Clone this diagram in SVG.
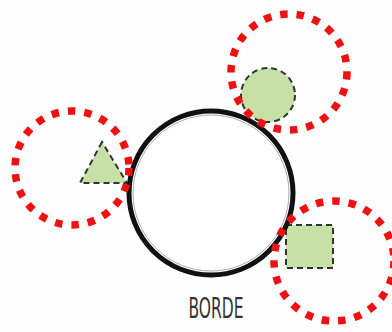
<svg xmlns="http://www.w3.org/2000/svg" width="392" height="332" viewBox="0 0 392 332">
<style>
.red{fill:none;stroke:#ee1111;stroke-width:7.5;stroke-dasharray:7.5 9}
.shape{fill:#c6e0a6;stroke:#333;stroke-width:2;stroke-dasharray:6 4}
.lbl{font-family:"DejaVu Sans Condensed","Liberation Sans",sans-serif;font-size:28px;fill:#333}
</style>
<rect width="392" height="332" fill="#fefefe"/>
<g id="shape-circle"><circle class="shape" cx="268" cy="95" r="27"/></g>
<g id="shape-triangle"><polygon class="shape" points="102,142 80,183 127,183"/></g>
<g id="shape-square"><rect class="shape" x="286" y="225" width="47" height="43"/></g>
<g id="borde">
<circle cx="211" cy="193" r="82" fill="#fff" stroke="#111" stroke-width="5"/>
<circle cx="211" cy="193" r="78" fill="none" stroke="#aaa" stroke-width="1"/>
<text class="lbl" x="216" y="318" text-anchor="middle" textLength="55" lengthAdjust="spacingAndGlyphs">BORDE</text>
</g>
<g id="connectors">
<circle class="red" cx="289" cy="72" r="58"/>
<circle class="red" cx="72" cy="168" r="57"/>
<circle class="red" cx="334" cy="261" r="60"/>
</g>
</svg>
